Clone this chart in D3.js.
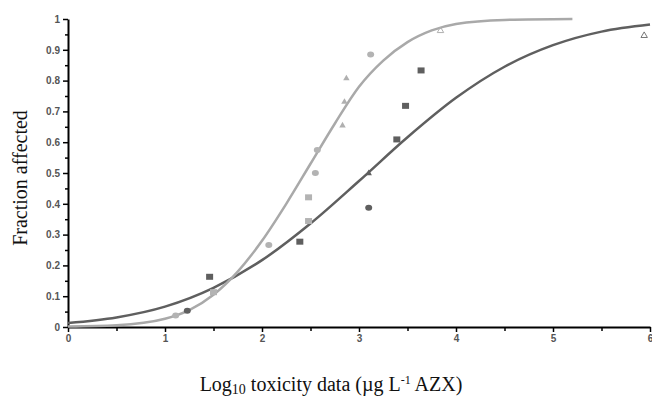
<!DOCTYPE html>
<head>
<meta charset="utf-8">
<script src="https://d3js.org/d3.v7.min.js"></script>
</head>
<style>
body { margin: 0; background: #fff; }
.tick text { font-family: "Liberation Sans", Arial, sans-serif; font-weight: bold; font-size: 10px; fill: #555; }
.lbl { font-family: "Liberation Serif", "Times New Roman", serif; fill: #111; }
</style>
<body>
<script>
// fitted curves
var lightCurveX = [0, 0.5, 1.0, 1.25, 1.5, 1.75, 2.0, 2.25, 2.5, 2.75, 3.0, 3.25, 3.5, 3.75, 4.0, 4.5, 5.2];
var lightCurveY = [0.002, 0.006, 0.027, 0.055, 0.105, 0.18, 0.28, 0.40, 0.53, 0.66, 0.78, 0.865, 0.925, 0.963, 0.984, 0.997, 1.0];
var darkCurveX = [0, 0.5, 1.0, 1.5, 2.0, 2.5, 3.0, 3.5, 4.0, 4.5, 5.0, 5.5, 6.0];
var darkCurveY = [0.013, 0.031, 0.066, 0.127, 0.217, 0.336, 0.474, 0.616, 0.744, 0.845, 0.915, 0.959, 0.982];

// observed points
var darkSquares = [[1.46, 0.163], [2.39, 0.277], [3.39, 0.609], [3.48, 0.718], [3.64, 0.833]];
var lightSquares = [[1.5, 0.113], [2.48, 0.344], [2.48, 0.421]];
var lightCircles = [[1.11, 0.037], [2.07, 0.266], [2.55, 0.5], [2.57, 0.575], [3.12, 0.885]];
var darkCircles = [[1.23, 0.053], [3.10, 0.387]];
var lightTriangles = [[2.87, 0.807], [2.85, 0.731], [2.83, 0.654]];
var lightOpenTriangles = [[3.84, 0.962]];
var darkTriangles = [[3.10, 0.499]];
var darkOpenTriangles = [[5.94, 0.946]];

var xTicks = [0, 1, 2, 3, 4, 5, 6];
var yTicks = [0, 0.1, 0.2, 0.3, 0.4, 0.5, 0.6, 0.7, 0.8, 0.9, 1];

var width = 652, height = 400;
var x = d3.scaleLinear().domain([0, 6]).range([68, 650]);
var y = d3.scaleLinear().domain([0, 1]).range([327, 19]);

var svg = d3.select("body").append("svg")
    .attr("width", width)
    .attr("height", height);

var lightC = "#a9a9a9", darkC = "#5f5f5f";

// minor ticks
svg.append("g")
    .attr("transform", "translate(68,0)")
    .call(d3.axisLeft(y).tickValues(d3.range(0.05, 1, 0.1)).tickSize(3).tickFormat(""))
    .call(function(g) { g.select(".domain").remove(); g.selectAll("line").attr("stroke-width", 1.5); });
svg.append("g")
    .attr("transform", "translate(0,327)")
    .call(d3.axisBottom(x).tickValues([0.5, 1.5, 2.5, 3.5, 4.5, 5.5]).tickSize(4).tickFormat(""))
    .call(function(g) { g.select(".domain").remove(); g.selectAll("line").attr("stroke-width", 1.5); });

var yAxis = svg.append("g")
    .attr("transform", "translate(68,0)")
    .call(d3.axisLeft(y).tickValues(yTicks).tickSize(5).tickPadding(3).tickSizeOuter(0)
      .tickFormat(function(d) { return d === 0 || d === 1 ? d : d3.format(".1f")(d); }));
yAxis.select(".domain").attr("stroke-width", 2);
yAxis.selectAll("line").attr("stroke-width", 1.5);

var xAxis = svg.append("g")
    .attr("transform", "translate(0,327)")
    .call(d3.axisBottom(x).tickValues(xTicks).tickSize(5).tickPadding(3).tickSizeOuter(0).tickFormat(d3.format("d")));
xAxis.select(".domain").attr("stroke-width", 2);
xAxis.selectAll("line").attr("stroke-width", 1.5);

var line = d3.line()
    .x(function(d) { return x(d[0]); })
    .y(function(d) { return y(d[1]); })
    .curve(d3.curveMonotoneX);

svg.append("path")
    .datum(d3.zip(darkCurveX, darkCurveY))
    .attr("d", line)
    .attr("fill", "none")
    .attr("stroke", darkC)
    .attr("stroke-width", 2.5);
svg.append("path")
    .datum(d3.zip(lightCurveX, lightCurveY))
    .attr("d", line)
    .attr("fill", "none")
    .attr("stroke", lightC)
    .attr("stroke-width", 2.5);

function squares(data, color) {
  svg.selectAll(null).data(data).enter().append("rect")
      .attr("x", function(d) { return x(d[0]) - 3.5; })
      .attr("y", function(d) { return y(d[1]) - 3; })
      .attr("width", 7).attr("height", 6)
      .attr("fill", color);
}
function circles(data, color) {
  svg.selectAll(null).data(data).enter().append("ellipse")
      .attr("cx", function(d) { return x(d[0]); })
      .attr("cy", function(d) { return y(d[1]); })
      .attr("rx", 3.5).attr("ry", 3)
      .attr("fill", color);
}
var tri = d3.symbol().type(d3.symbolTriangle).size(18);
function triangles(data, color, open) {
  svg.selectAll(null).data(data).enter().append("path")
      .attr("d", tri)
      .attr("transform", function(d) { return "translate(" + x(d[0]) + "," + y(d[1]) + ")"; })
      .attr("fill", open ? "none" : color)
      .attr("stroke", open ? color : "none")
      .attr("stroke-width", 1);
}
squares(darkSquares, darkC);
squares(lightSquares, "#b3b3b3");
circles(lightCircles, "#b3b3b3");
circles(darkCircles, darkC);
triangles(lightTriangles, "#b0b0b0", false);
triangles(lightOpenTriangles, "#b0b0b0", true);
triangles(darkTriangles, darkC, false);
triangles(darkOpenTriangles, "#777", true);

// axis titles
svg.append("text")
    .attr("class", "lbl")
    .attr("transform", "translate(27,178) rotate(-90)")
    .attr("text-anchor", "middle")
    .style("font-size", "20px")
    .text("Fraction affected");

var xt = svg.append("text")
    .attr("class", "lbl")
    .attr("x", 331).attr("y", 391)
    .attr("text-anchor", "middle")
    .style("font-size", "20px");
xt.append("tspan").text("Log");
xt.append("tspan").attr("font-size", "14px").attr("dy", 3).text("10");
xt.append("tspan").attr("dy", -3).text(" toxicity data (µg L");
xt.append("tspan").attr("font-size", "12px").attr("dy", -7).text("-1");
xt.append("tspan").attr("dy", 7).text(" AZX)");
</script>
</body>
